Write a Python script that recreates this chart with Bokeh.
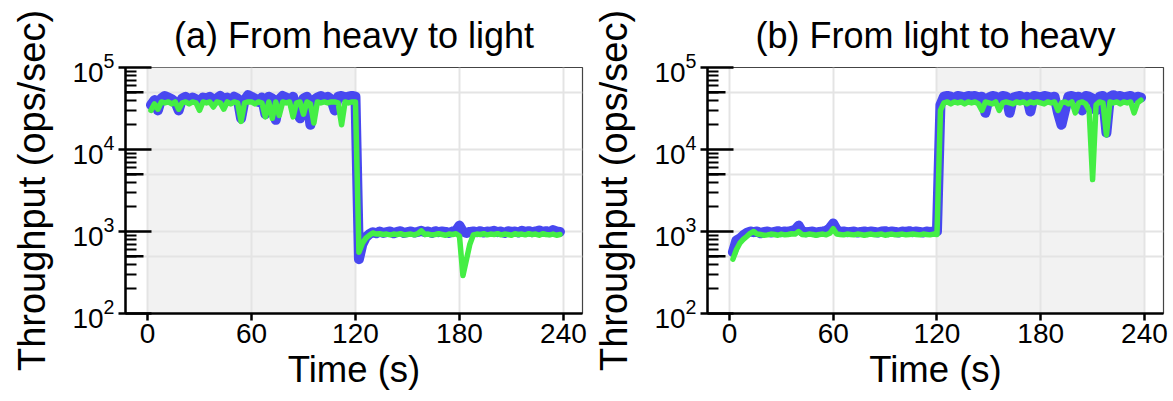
from bokeh.plotting import figure
from bokeh.layouts import row
from bokeh.models import Range1d, FixedTicker, BoxAnnotation, ColumnDataSource
from bokeh.embed import file_html
from bokeh.resources import INLINE

# ---------------- data ----------------
time_s = list(range(2, 240, 2))  # sample times (s)

# (a) heavy -> light
a_blue = [
    35000, 40000, 30000, 42000, 45000, 43000, 41000, 38000, 30000, 42000,
    44000, 40000, 43000, 41000, 37000, 43000, 42000, 44000, 40000, 42000,
    45000, 41000, 43000, 39000, 44000, 42000, 24000, 40000, 46000, 44000,
    42000, 38000, 43000, 27000, 44000, 42000, 23000, 41000, 45000, 43000,
    40000, 44000, 30000, 24000, 42000, 44000, 20000, 40000, 43000, 45000,
    42000, 44000, 41000, 30000, 44000, 45000, 43000, 44000, 45000, 44000,
    460, 700, 850, 930, 980, 950, 1000, 960, 980, 1000,
    950, 990, 1010, 960, 980, 1000, 970, 990, 1020, 980,
    1000, 960, 1010, 980, 1000, 990, 960, 1000, 1020, 1180,
    1000, 960, 990, 1000, 980, 1010, 970, 1000, 990, 1020,
    980, 1000, 960, 1010, 990, 1000, 970, 1020, 990, 1010,
    980, 1000, 1030, 990, 1010, 980, 1040, 1000, 990,
]
a_green = [
    30000, 36000, 31000, 38000, 37000, 38000, 36000, 38000, 31000, 37000,
    38000, 36000, 38000, 37000, 30000, 38000, 37000, 38000, 33000, 38000,
    37000, 31000, 38000, 36000, 38000, 37000, 22000, 37000, 38000, 38000,
    36000, 38000, 37000, 25000, 38000, 24000, 38000, 26000, 38000, 37000,
    38000, 25000, 37000, 38000, 27000, 38000, 36000, 21000, 38000, 37000,
    38000, 37000, 38000, 38000, 37000, 20000, 38000, 37000, 38000, 38000,
    560, 720, 830, 900, 960, 930, 940, 920, 930, 910,
    930, 920, 940, 910, 920, 930, 910, 940, 1020, 920,
    930, 910, 920, 940, 920, 900, 930, 920, 940, 880,
    290, 450, 700, 910, 930, 920, 940, 910, 930, 920,
    940, 910, 930, 920, 900, 940, 920, 930, 910, 940,
    920, 930, 900, 940, 920, 910, 930, 900, 920,
]

# (b) light -> heavy
b_blue = [
    560, 780, 820, 900, 960, 1000, 980, 1000, 950, 990,
    1000, 970, 990, 1010, 980, 1000, 990, 1020, 1050, 1180,
    1000, 980, 990, 1000, 970, 990, 1000, 1020, 1100, 1250,
    1050, 990, 1000, 980, 990, 1000, 970, 990, 1000, 980,
    1000, 990, 970, 1000, 1010, 980, 1000, 990, 970, 1000,
    990, 1010, 980, 1000, 990, 970, 1000, 990, 1000, 1000,
    35000, 44000, 45000, 44000, 42000, 45000, 44000, 43000, 45000, 44000,
    45000, 43000, 44000, 28000, 43000, 45000, 44000, 42000, 45000, 44000,
    28000, 43000, 44000, 45000, 42000, 44000, 29000, 45000, 44000, 43000,
    45000, 44000, 43000, 44000, 28000, 20000, 30000, 44000, 45000, 43000,
    44000, 30000, 45000, 44000, 42000, 30000, 44000, 45000, 16000, 44000,
    46000, 44000, 45000, 43000, 44000, 45000, 42000, 44000, 43000,
]
b_green = [
    460, 600, 720, 800, 870, 950, 1000, 930, 920, 900,
    910, 930, 920, 900, 930, 910, 920, 940, 930, 1000,
    920, 910, 930, 920, 900, 920, 930, 910, 950, 1080,
    930, 920, 910, 930, 920, 910, 930, 920, 900, 920,
    930, 910, 920, 930, 900, 920, 930, 910, 920, 930,
    910, 920, 930, 920, 910, 930, 920, 910, 930, 920,
    30000, 37000, 38000, 36000, 38000, 37000, 38000, 36000, 38000, 37000,
    38000, 36000, 30000, 38000, 37000, 36000, 38000, 30000, 37000, 38000,
    37000, 36000, 38000, 37000, 38000, 36000, 38000, 37000, 38000, 37000,
    36000, 38000, 37000, 38000, 30000, 37000, 38000, 36000, 38000, 28000,
    37000, 38000, 36000, 30000, 4300, 35000, 38000, 37000, 15000, 38000,
    37000, 38000, 36000, 38000, 37000, 38000, 28000, 37000, 40000,
]

titles = ["(a) From heavy to light", "(b) From light to heavy"]
heavy_phase = [(0, 120), (120, 240)]  # shaded (heavy workload) intervals
x_ticks = [0, 60, 120, 180, 240]
y_major = [1e2, 1e3, 1e4, 1e5]
y_mid = [5e2, 5e3, 5e4]
y_minor = [m * 10 ** k for k in (2, 3, 4) for m in (2, 3, 4, 5, 6, 7, 8, 9)]

BLUE = "#4848f0"
GREEN = "#44ee44"
FONT = "Liberation Sans"
X0, X1 = -12.7, 251.0


def make_panel(title, blue, green, phase, width, left_border, right_border):
    p = figure(width=width, height=400, y_axis_type="log",
               x_range=Range1d(X0, X1), y_range=Range1d(1e2, 1e5),
               output_backend="svg", toolbar_location=None,
               min_border_left=left_border, min_border_right=right_border,
               min_border_top=64, min_border_bottom=87)
    p.title.text = title
    p.title.align = "center"
    p.title.text_font = FONT
    p.title.text_font_size = "36px"
    p.title.text_font_style = "normal"
    p.title.text_color = "black"
    p.title.standoff = 24

    p.outline_line_color = "#444444"
    p.outline_line_width = 1.2
    p.background_fill_color = "white"

    box = BoxAnnotation(left=phase[0], right=phase[1], fill_color="#f2f2f2",
                        fill_alpha=1.0, line_alpha=0, level="underlay")
    p.center.insert(0, box)

    p.xgrid.ticker = FixedTicker(ticks=x_ticks)
    p.ygrid.ticker = FixedTicker(ticks=y_major + y_mid)
    for g in (p.xgrid, p.ygrid):
        g.grid_line_color = "#e4e4e4"
        g.grid_line_width = 2

    xa = p.xaxis[0]
    xa.ticker = FixedTicker(ticks=x_ticks)
    xa.axis_label = "Time (s)"
    xa.major_tick_in = 0
    xa.major_tick_out = 7
    xa.minor_tick_in = 0
    xa.minor_tick_out = 0
    xa.major_label_standoff = 3
    xa.axis_label_standoff = 3
    xa.axis_label_text_font_size = "36.5px"

    ya = p.yaxis[0]
    ya.ticker = FixedTicker(ticks=y_major, minor_ticks=y_minor)
    ya.axis_label = "Throughput (ops/sec)"
    ya.major_tick_in = 26
    ya.major_tick_out = 7
    ya.minor_tick_in = 11
    ya.minor_tick_out = 0
    ya.major_label_standoff = 4
    ya.axis_label_standoff = 16
    ya.axis_label_text_font_size = "38px"

    for ax in (xa, ya):
        ax.axis_line_color = "black"
        ax.axis_line_width = 2.5
        ax.major_tick_line_color = "black"
        ax.major_tick_line_width = 2.5
        ax.minor_tick_line_color = "black"
        ax.minor_tick_line_width = 2.2
        ax.major_label_text_font = FONT
        ax.major_label_text_font_size = "28px"
        ax.major_label_text_color = "black"
        ax.axis_label_text_font = FONT
        ax.axis_label_text_font_style = "normal"
        ax.axis_label_text_color = "black"

    src = ColumnDataSource(dict(t=time_s, blue=blue, green=green))
    p.line("t", "blue", source=src, line_color=BLUE, line_width=10,
           line_join="round", line_cap="round")
    p.line("t", "green", source=src, line_color=GREEN, line_width=5.5,
           line_join="round", line_cap="round")

    # intermediate-length ticks at 5 x 10^k (half of the dash is clipped by the frame)
    p.scatter(x=[X0] * len(y_mid), y=y_mid, marker="dash", size=36,
              line_color="black", line_width=2.5)
    return p


p1 = make_panel(titles[0], a_blue, a_green, heavy_phase[0], 590, 125, 8)
p2 = make_panel(titles[1], b_blue, b_green, heavy_phase[1], 582, 117, 9)

layout = row(p1, p2)
open("out.html", "w").write(file_html(layout, INLINE))
